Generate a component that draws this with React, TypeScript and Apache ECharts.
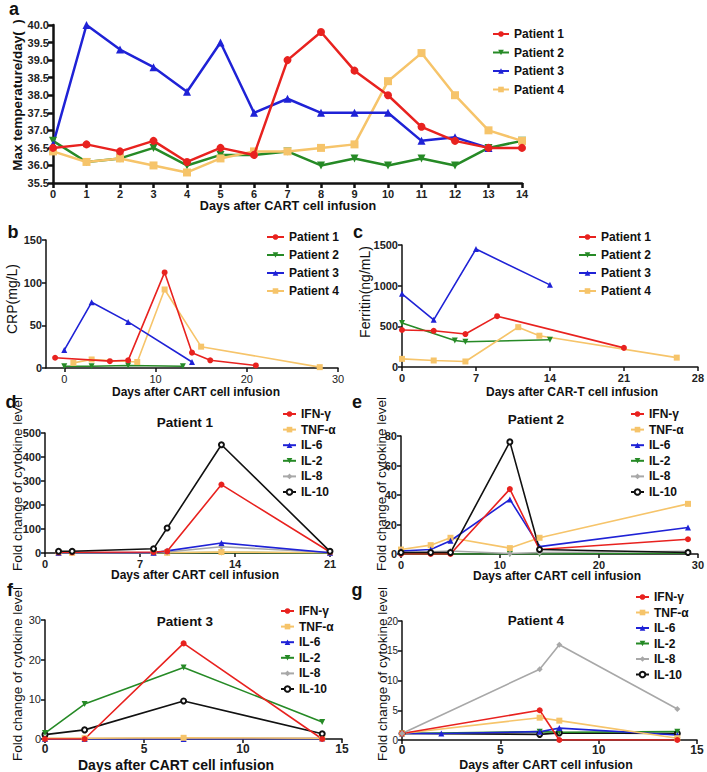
import React, { useEffect, useRef } from "react";
import * as echarts from "echarts";

// ---------- Data ----------
// Panel a: max temperature per day
const tempDays = [0, 1, 2, 3, 4, 5, 6, 7, 8, 9, 10, 11, 12, 13, 14];
const tempP1 = [36.5, 36.6, 36.4, 36.7, 36.1, 36.5, 36.3, 39.0, 39.8, 38.7, 38.0, 37.1, 36.7, 36.5, 36.5];
const tempP2 = [36.7, 36.1, 36.2, 36.5, 36.0, 36.3, 36.3, 36.4, 36.0, 36.2, 36.0, 36.2, 36.0, 36.5, 36.7];
const tempP3Days = [0, 1, 2, 3, 4, 5, 6, 7, 8, 9, 10, 11, 12, 13];
const tempP3 = [36.6, 40.0, 39.3, 38.8, 38.1, 39.5, 37.5, 37.9, 37.5, 37.5, 37.5, 36.7, 36.8, 36.5];
const tempP4 = [36.4, 36.1, 36.2, 36.0, 35.8, 36.2, 36.4, 36.4, 36.5, 36.6, 38.4, 39.2, 38.0, 37.0, 36.7];

// Panel b: CRP
const crpP1Days = [-1, 5, 7, 11, 14, 16, 21];
const crpP1 = [12, 8, 9, 112, 18, 9, 3];
const crpP2Days = [0, 3, 7, 13];
const crpP2 = [2, 2, 3, 2];
const crpP3Days = [0, 3, 7, 14];
const crpP3 = [21, 77, 54, 7];
const crpP4Days = [1, 3, 8, 11, 15, 28];
const crpP4 = [6, 10, 7, 92, 25, 1];

// Panel c: Ferritin
const ferP1Days = [0, 3, 6, 9, 21];
const ferP1 = [455, 445, 405, 625, 235];
const ferP2Days = [0, 5, 6, 14];
const ferP2 = [540, 325, 310, 335];
const ferP3Days = [0, 3, 7, 14];
const ferP3 = [900, 580, 1450, 1010];
const ferP4Days = [0, 3, 6, 11, 13, 26];
const ferP4 = [100, 80, 68, 490, 385, 115];

// Panel d: Patient 1 cytokines
const d_days = [1, 2, 8, 9, 13, 21];
const d_ifn = [3, 3, 4, 7, 285, 4];
const d_tnf = [1, 1, 1, 1, 4, 1];
const d_il6Days = [1, 8, 9, 13, 21];
const d_il6 = [1, 1, 9, 42, 1];
const d_il2Days = [1, 8, 9, 13, 21];
const d_il2 = [0, 0, 1, 2, 0];
const d_il8Days = [1, 8, 9, 13, 21];
const d_il8 = [1, 1, 4, 26, 2];
const d_il10 = [7, 7, 18, 104, 451, 7];

// Panel e: Patient 2 cytokines
const e_days = [0, 3, 5, 11, 14, 29];
const e_ifn = [0, 0, 0, 44, 3, 10];
const e_tnf = [3, 6, 11, 4, 11, 34];
const e_il6 = [2, 3, 9, 37, 5, 18];
const e_il2 = [0, 0, 0, 0, 0, 0.7];
const e_il8 = [1, 1.5, 2, 0.3, 1, 1.8];
const e_il10 = [1, 1, 1, 76, 3, 1];

// Panel f: Patient 3 cytokines
const f_days = [0, 2, 7, 14];
const f_ifn = [0, 0, 24.1, 0];
const f_tnf = [0.2, 0.2, 0.3, 0.2];
const f_il6 = [0, 0, 0, 0.1];
const f_il2 = [1.5, 8.8, 18, 4.3];
const f_il8 = [0.1, 0.1, 0.2, 0.1];
const f_il10 = [1.1, 2.3, 9.6, 1.3];

// Panel g: Patient 4 cytokines
const g_days = [0, 7, 8, 14];
const g_ifn = [1.1, 5.0, 0, 0];
const g_tnf = [1.1, 3.75, 3.25, 0.3];
const g_il6Days = [0, 2, 7, 8, 14];
const g_il6 = [1.1, 1.1, 1.4, 2.0, 0.85];
const g_il2 = [1.1, 1.4, 1.3, 1.4];
const g_il8 = [1.1, 11.9, 16.0, 5.2];
const g_il10 = [1.1, 0.95, 1.2, 1.1];

const patients = ["Patient 1", "Patient 2", "Patient 3", "Patient 4"];
const cytokines = ["IFN-γ", "TNF-α", "IL-6", "IL-2", "IL-8", "IL-10"];

// ---------- Styles ----------
const FONT = '"Liberation Sans", Arial, Helvetica, sans-serif';
const RED = "#e8221f";
const GREEN = "#268a26";
const BLUE = "#1f22d6";
const YELLOW = "#f6c46a";
const GRAY = "#a8a8a8";
const BLACK = "#111111";

type Sty = { color: string; symbol: string; rotate?: number };
const STY: Record<string, Sty> = {
  "Patient 1": { color: RED, symbol: "circle" },
  "Patient 2": { color: GREEN, symbol: "triangle", rotate: 180 },
  "Patient 3": { color: BLUE, symbol: "triangle" },
  "Patient 4": { color: YELLOW, symbol: "rect" },
  "IFN-γ": { color: RED, symbol: "circle" },
  "TNF-α": { color: YELLOW, symbol: "rect" },
  "IL-6": { color: BLUE, symbol: "triangle" },
  "IL-2": { color: GREEN, symbol: "triangle", rotate: 180 },
  "IL-8": { color: GRAY, symbol: "diamond" },
  "IL-10": { color: BLACK, symbol: "emptyCircle" },
};

function line(name: string, days: number[], vals: number[], idx: number, big = false, z = 2) {
  const s = STY[name];
  return {
    type: "line",
    name,
    xAxisIndex: idx,
    yAxisIndex: idx,
    data: days.map((d, i) => [d, vals[i]]),
    symbol: s.symbol,
    symbolRotate: s.rotate || 0,
    symbolSize: big ? 8 : s.symbol === "emptyCircle" ? 5 : 6,
    lineStyle: { color: s.color, width: big ? 2.5 : 1.6 },
    itemStyle: { color: s.color, borderColor: s.color, borderWidth: s.symbol === "emptyCircle" ? 1.3 : 0 },
    z,
    silent: true,
  };
}

function xAx(idx: number, min: number, max: number, interval: number | null, opt: any = {}) {
  const w = opt.w || 1.5;
  const a: any = {
    type: "value",
    gridIndex: idx,
    min,
    max,
    axisLine: { onZero: false, lineStyle: { color: BLACK, width: w } },
    axisTick: { show: true, inside: false, length: opt.tl || 4, lineStyle: { color: BLACK, width: w } },
    axisLabel: {
      fontFamily: FONT,
      fontSize: opt.fs || 11,
      fontWeight: opt.fw || "bold",
      color: "#222",
      margin: opt.m || 5,
    },
    splitLine: { show: false },
  };
  if (interval !== null) a.interval = interval;
  if (opt.custom) {
    a.axisTick.customValues = opt.custom;
    a.axisLabel.customValues = opt.custom;
  }
  return a;
}

function yAx(idx: number, min: number, max: number, interval: number, opt: any = {}) {
  const w = opt.w || 1.5;
  return {
    type: "value",
    gridIndex: idx,
    min,
    max,
    interval,
    axisLine: { show: true, onZero: false, lineStyle: { color: BLACK, width: w } },
    axisTick: { show: true, inside: false, length: opt.tl || 4, lineStyle: { color: BLACK, width: w } },
    axisLabel: {
      fontFamily: FONT,
      fontSize: opt.fs || 11,
      fontWeight: opt.fw || "bold",
      color: "#222",
      margin: opt.m || 4,
      formatter: opt.fmt || ((v: number) => String(v)),
    },
    splitLine: { show: false },
  };
}

function legend(data: string[], left: number, top: number, itemWidth: number, lh: number, gap: number) {
  return {
    orient: "vertical",
    left,
    top,
    padding: 0,
    itemWidth,
    itemHeight: 7,
    itemGap: gap,
    selectedMode: false,
    data,
    textStyle: { fontFamily: FONT, fontSize: 12, fontWeight: "bold", color: BLACK, lineHeight: lh },
  };
}

function txt(x: number, y: number, text: string, size: number, weight = "bold", rot = 0) {
  return {
    type: "text",
    x,
    y,
    rotation: rot,
    silent: true,
    style: {
      text,
      fontFamily: FONT,
      fontSize: size,
      fontWeight: weight,
      fill: BLACK,
      align: "center",
      verticalAlign: "middle",
    },
  };
}

function buildOption() {
  const grids = [
    { left: 53, top: 25, width: 469, height: 158 },
    { left: 46, top: 240, width: 292, height: 128 },
    { left: 402, top: 245, width: 296, height: 122 },
    { left: 45, top: 433, width: 285, height: 120 },
    { left: 401, top: 436, width: 297, height: 118 },
    { left: 45, top: 620, width: 297, height: 119 },
    { left: 402, top: 621, width: 295, height: 119 },
  ];
  const xAxis = [
    xAx(0, 0, 14, 1, { w: 2.5, tl: 5, fs: 11 }),
    xAx(1, -2, 30, null, { custom: [0, 10, 20, 30], fw: "normal", fs: 11 }),
    xAx(2, 0, 28, 7, {}),
    xAx(3, 0, 21, 7, {}),
    xAx(4, 0, 30, 10, {}),
    xAx(5, 0, 15, 5, { fs: 12, m: 4 }),
    xAx(6, 0, 15, 5, { fs: 12, m: 4 }),
  ];
  const yAxis = [
    yAx(0, 35.5, 40, 0.5, { w: 2.5, tl: 5, fs: 11, fmt: (v: number) => v.toFixed(1) }),
    yAx(1, 0, 150, 50, {}),
    yAx(2, 0, 1500, 500, {}),
    yAx(3, 0, 500, 100, {}),
    yAx(4, 0, 80, 20, {}),
    yAx(5, 0, 30, 10, { fw: "normal" }),
    yAx(6, 0, 20, 5, { fw: "normal", fs: 10 }),
  ];

  const series: any[] = [
    line("Patient 2", tempDays, tempP2, 0, true),
    line("Patient 4", tempDays, tempP4, 0, true),
    line("Patient 3", tempP3Days, tempP3, 0, true),
    line("Patient 1", tempDays, tempP1, 0, true, 3),

    line("Patient 2", crpP2Days, crpP2, 1),
    line("Patient 4", crpP4Days, crpP4, 1),
    line("Patient 3", crpP3Days, crpP3, 1),
    line("Patient 1", crpP1Days, crpP1, 1, false, 3),

    line("Patient 2", ferP2Days, ferP2, 2),
    line("Patient 4", ferP4Days, ferP4, 2),
    line("Patient 3", ferP3Days, ferP3, 2),
    line("Patient 1", ferP1Days, ferP1, 2, false, 3),

    line("IL-2", d_il2Days, d_il2, 3),
    line("TNF-α", d_days, d_tnf, 3),
    line("IL-8", d_il8Days, d_il8, 3),
    line("IL-6", d_il6Days, d_il6, 3),
    line("IFN-γ", d_days, d_ifn, 3),
    line("IL-10", d_days, d_il10, 3),

    line("IL-2", e_days, e_il2, 4),
    line("IL-8", e_days, e_il8, 4),
    line("TNF-α", e_days, e_tnf, 4),
    line("IL-6", e_days, e_il6, 4),
    line("IFN-γ", e_days, e_ifn, 4),
    line("IL-10", e_days, e_il10, 4),

    line("IL-8", f_days, f_il8, 5),
    line("IL-6", f_days, f_il6, 5),
    line("TNF-α", f_days, f_tnf, 5),
    line("IL-10", f_days, f_il10, 5),
    line("IL-2", f_days, f_il2, 5),
    line("IFN-γ", f_days, f_ifn, 5),

    line("IL-10", g_days, g_il10, 6),
    line("IL-2", g_days, g_il2, 6),
    line("IL-6", g_il6Days, g_il6, 6),
    line("TNF-α", g_days, g_tnf, 6),
    line("IFN-γ", g_days, g_ifn, 6),
    line("IL-8", g_days, g_il8, 6),
  ];

  const legends = [
    legend(patients, 492, 27, 16, 14, 4.5),
    legend(patients, 266, 230, 17, 14, 4),
    legend(patients, 578, 230, 17, 14, 4),
    legend(cytokines, 282, 408, 13, 12, 3.6),
    legend(cytokines, 630, 408, 13, 12, 3.6),
    legend(cytokines, 280, 605, 13, 12, 3.6),
    legend(cytokines, 635, 591, 13, 12, 3.5),
  ];

  const R = Math.PI / 2;
  const graphic = [
    // panel letters
    txt(14, 9, "a", 18),
    txt(13, 232, "b", 18),
    txt(358, 232, "c", 18),
    txt(11, 402, "d", 18),
    txt(357, 402, "e", 18),
    txt(10, 590, "f", 18),
    txt(357, 590, "g", 18),
    // titles
    txt(185, 422, "Patient 1", 13.5),
    txt(536, 419, "Patient 2", 13.5),
    txt(185, 621, "Patient 3", 13.5),
    txt(536, 620, "Patient 4", 13.5),
    // x axis titles
    txt(288, 206, "Days after CART cell infusion", 12.6),
    txt(196, 392, "Days after CART cell infusion", 12),
    txt(572, 392, "Days after CAR-T cell infusion", 12),
    txt(195, 575, "Days after CART cell infusion", 12),
    txt(557, 576, "Days after CART cell infusion", 12),
    txt(176, 765, "Days after CART cell infusion", 14),
    txt(546, 765, "Days after CART cell infusion", 12.4),
    // y axis titles
    txt(17, 95, "Max temperature/day(  )", 13.5, "bold", R),
    txt(12, 299, "CRP(mg/L)", 14, "normal", R),
    txt(365, 292, "Ferritin(ng/mL)", 14, "normal", R),
    txt(17, 484, "Fold change of cytokine level", 13.5, "normal", R),
    txt(381, 484, "Fold change of cytokine level", 13.5, "normal", R),
    txt(17, 674, "Fold change of cytokine level", 13.5, "normal", R),
    txt(382, 674, "Fold change of cytokine level", 13.5, "normal", R),
  ];

  return {
    animation: false,
    backgroundColor: "#ffffff",
    grid: grids,
    xAxis,
    yAxis,
    series,
    legend: legends,
    graphic,
  };
}

export default function App() {
  const ref = useRef<HTMLDivElement>(null);
  useEffect(() => {
    document.body.style.margin = "0";
    const chart = echarts.init(ref.current!, undefined, { renderer: "svg" });
    chart.setOption(buildOption() as any);
    return () => chart.dispose();
  }, []);
  return <div ref={ref} style={{ width: 707, height: 772, background: "#fff" }} />;
}
